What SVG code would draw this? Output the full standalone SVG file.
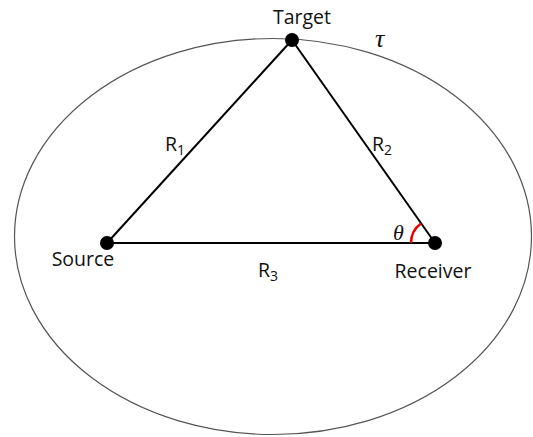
<svg xmlns="http://www.w3.org/2000/svg" width="533" height="437" viewBox="0 0 533 437">
<style>
.lbl{font-family:"Open Sans","Liberation Sans",sans-serif;font-size:19.5px;fill:#111}
.sub{font-size:14px}
.edge{stroke:#000;stroke-width:2;fill:none}
.dot{fill:#000}
</style>
<rect width="533" height="437" fill="#fff"/>
<ellipse cx="273" cy="236.5" rx="258.5" ry="198" fill="none" stroke="#555" stroke-width="1.2"/>
<text x="375" y="47" font-family="'Liberation Serif',serif" font-style="italic" font-size="26" fill="#111">τ</text>
<g id="connectors">
<line class="edge" x1="107" y1="243" x2="292" y2="40"/>
<line class="edge" x1="292" y1="40" x2="435" y2="243"/>
<line class="edge" x1="107" y1="243" x2="435" y2="243"/>
<path d="M411 243 A24 24 0 0 1 421 223.5" fill="none" stroke="#e00" stroke-width="2.5"/>
<text class="lbl" x="165" y="151">R<tspan class="sub" dy="4">1</tspan></text>
<text class="lbl" x="372" y="151">R<tspan class="sub" dy="4">2</tspan></text>
<text class="lbl" x="258" y="277">R<tspan class="sub" dy="4">3</tspan></text>
<text x="393" y="240" font-family="'Liberation Serif',serif" font-style="italic" font-size="22" fill="#111">θ</text>
</g>
<g id="target">
<circle class="dot" cx="292" cy="40" r="7"/>
<text class="lbl" x="302" y="24" text-anchor="middle">Target</text>
</g>
<g id="source">
<circle class="dot" cx="107" cy="243" r="7"/>
<text class="lbl" x="83" y="266" text-anchor="middle">Source</text>
</g>
<g id="receiver">
<circle class="dot" cx="435" cy="243" r="7"/>
<text class="lbl" x="433" y="278" text-anchor="middle">Receiver</text>
</g>
</svg>
